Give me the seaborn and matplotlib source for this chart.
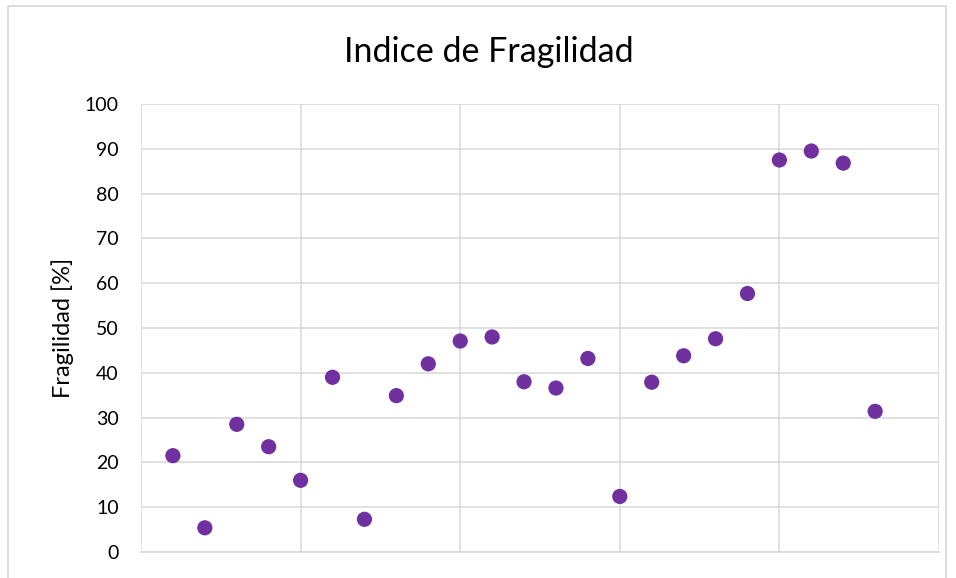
import matplotlib
matplotlib.use("Agg")
import matplotlib.pyplot as plt
import seaborn as sns
import pandas as pd
from matplotlib.patches import Rectangle

muestra = list(range(1, 24))
fragilidad = [21.5, 5.4, 28.5, 23.5, 16.0, 39.0, 7.3, 34.9, 42.0, 47.1, 48.0, 38.0,
              36.6, 43.2, 12.4, 37.9, 43.8, 47.6, 57.7, 87.5, 89.5, 86.8, 31.4]
y_ticks = [0, 10, 20, 30, 40, 50, 60, 70, 80, 90, 100]
x_grid = [0, 5, 10, 15, 20, 25]

df = pd.DataFrame({"muestra": muestra, "fragilidad": fragilidad})

sns.set_theme(style="white")
plt.rcParams['font.family'] = ['Lato', 'DejaVu Sans']

fig = plt.figure(figsize=(9.56, 5.78), dpi=100)
ax = fig.add_axes([141/956, 1 - 552/578, (939-141)/956, (552-104)/578])

grid_c = "#D9D9D9"
sns.scatterplot(data=df, x="muestra", y="fragilidad", ax=ax, color="#7030A0",
                s=120, edgecolor="none", zorder=3, legend=False)

ax.set_xlim(0, 25)
ax.set_ylim(0, 100)
ax.set_yticks(y_ticks)
ax.set_xticks(x_grid)
ax.set_xticklabels([])
ax.tick_params(axis="both", length=0)
ax.tick_params(axis="y", labelsize=14, colors="#000000", pad=16)
ax.grid(True, color=grid_c, linewidth=1.1)
ax.set_axisbelow(True)
for side in ["top", "left", "right"]:
    ax.spines[side].set_visible(False)
ax.spines["bottom"].set_color(grid_c)
ax.spines["bottom"].set_linewidth(1.1)
ax.set_xlabel("")
ax.set_ylabel("")

fig.text(63/956, 1 - 328/578, "Fragilidad [%]", ha="center", va="center",
         rotation=90, fontsize=17, color="#000000")
fig.text(489/956, 1 - 52/578, "Indice de Fragilidad", ha="center", va="center",
         fontsize=24.5, color="#000000")

fig.patches.append(Rectangle((8/956, -0.02), (946-8)/956, 1 - 6/578 + 0.02,
                             transform=fig.transFigure, fill=False,
                             edgecolor=grid_c, linewidth=1.2))

fig.savefig("out.png", dpi=100)
